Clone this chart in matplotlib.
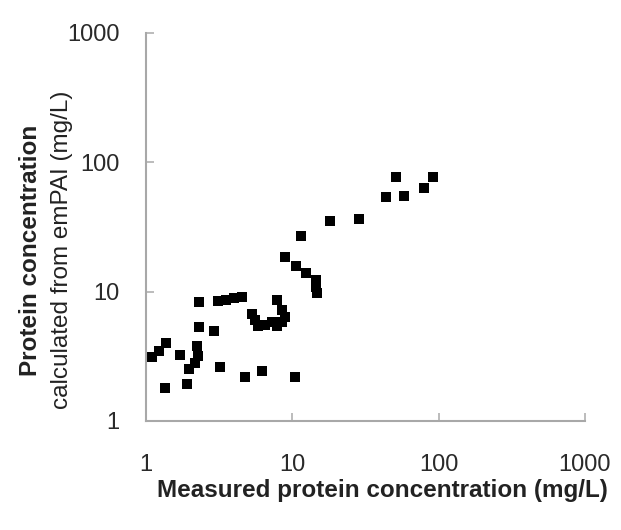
import matplotlib
matplotlib.use("Agg")
import matplotlib.pyplot as plt

plt.rcParams['font.family'] = ['Liberation Sans', 'DejaVu Sans']

# measured protein concentration (mg/L)
measured = [1.10, 1.23, 1.37, 1.35, 1.71, 1.91, 1.97, 2.16, 2.23, 2.27,
            2.30, 2.30, 2.92, 3.21, 3.11, 3.52, 4.00, 4.53, 4.75, 6.21,
            10.4, 5.30, 5.56, 5.83, 6.51, 7.26, 7.86, 8.50, 8.91, 8.50,
            7.86, 8.91, 10.6, 12.4, 14.5, 14.5, 14.8, 11.5, 18.1, 28.6,
            43.7, 58.0, 51.1, 79.5, 91.5]
# protein concentration calculated from emPAI (mg/L)
empai = [3.12, 3.47, 4.00, 1.80, 3.23, 1.93, 2.52, 2.81, 3.80, 3.18,
         8.30, 5.32, 4.95, 2.61, 8.45, 8.60, 8.91, 9.07, 2.19, 2.43,
         2.19, 6.70, 6.03, 5.42, 5.51, 5.81, 5.42, 5.81, 6.36, 7.20,
         8.60, 18.5, 15.7, 13.9, 12.3, 10.8, 9.73, 26.8, 35.0, 36.3,
         53.7, 54.6, 76.6, 63.0, 76.6]

ticks = [1, 10, 100, 1000]
tick_labels = ['1', '10', '100', '1000']

fig = plt.figure(figsize=(6.21, 5.30), dpi=100)
ax = fig.add_axes([0.2351, 0.2057, 0.7069, 0.7321])

ax.plot(measured, empai, 's', color='black', markersize=7.8, markeredgewidth=0)

ax.set_xscale('log')
ax.set_yscale('log')
ax.set_xlim(1, 1000)
ax.set_ylim(1, 1000)
ax.set_xticks(ticks)
ax.set_xticklabels(tick_labels)
ax.set_yticks(ticks)
ax.set_yticklabels(tick_labels)
ax.minorticks_off()

for s in ['top', 'right']:
    ax.spines[s].set_visible(False)
for s in ['left', 'bottom']:
    ax.spines[s].set_color('#a8a8a8')
    ax.spines[s].set_linewidth(1.5)

ax.tick_params(axis='both', direction='in', length=6, width=1.2, color='#b0b0b0',
               labelsize=17, labelcolor='#2a2a2a')
ax.tick_params(axis='x', pad=24)
ax.tick_params(axis='y', pad=19)

fig.text(382 / 621, 1 - 491 / 530, 'Measured protein concentration (mg/L)',
         ha='center', va='center', fontsize=17.5, fontweight='bold', color='#222222')
fig.text(31 / 621, 1 - 250 / 530, 'Protein concentration',
         ha='center', va='center', rotation=90, fontsize=17.5, fontweight='bold', color='#222222')
fig.text(62 / 621, 1 - 250 / 530, 'calculated from emPAI (mg/L)',
         ha='center', va='center', rotation=90, fontsize=17.5, color='#222222')

fig.savefig('out.png', dpi=100)
